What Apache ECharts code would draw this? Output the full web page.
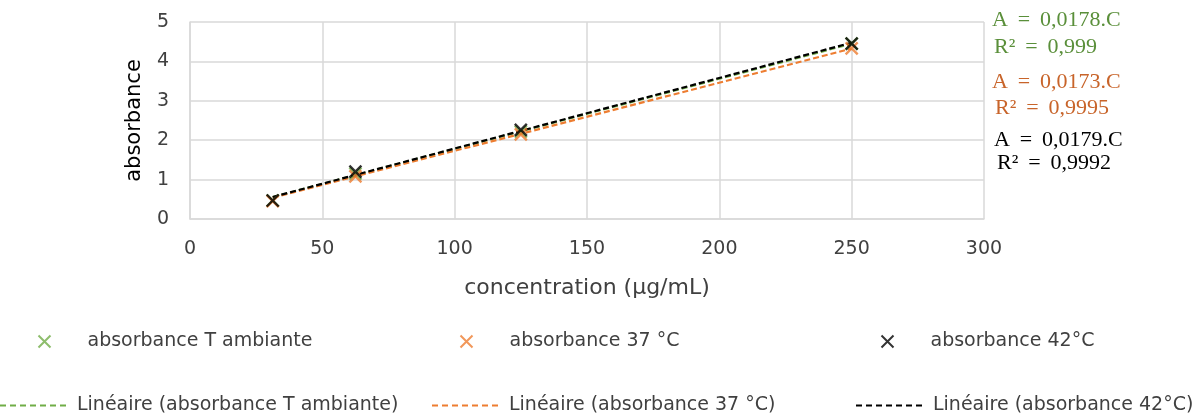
<!DOCTYPE html>
<html><head><meta charset="utf-8">
<script src="https://cdn.jsdelivr.net/npm/echarts@6/dist/echarts.min.js"></script>
<style>html,body{margin:0;padding:0;background:#fff}#c{width:1196px;height:418px}</style>
</head><body><div id="c"></div>
<script>
const concentrations = [31.25, 62.5, 125, 250];
const absAmbiante = [0.47, 1.15, 2.22, 4.45];
const abs37 = [0.45, 1.08, 2.15, 4.33];
const abs42 = [0.47, 1.20, 2.26, 4.45];
const trendX = [31.25, 250];
const trendAmbiante = [0.556, 4.45];
const trend37 = [0.541, 4.325];
const trend42 = [0.559, 4.475];
const seriesNames = ['absorbance T ambiante', 'absorbance 37 °C', 'absorbance 42°C'];
const trendNames = ['Linéaire (absorbance T ambiante)', 'Linéaire (absorbance 37 °C)', 'Linéaire (absorbance 42°C)'];
const equations = [['A = 0,0178.C', 'R² = 0,999'], ['A = 0,0173.C', 'R² = 0,9995'], ['A = 0,0179.C', 'R² = 0,9992']];
const colors = ['#70AD47', '#ED7D31', '#000000'];
const eqColors = ['#5A8F3A', '#C8642A', '#000000'];

const cross = 'path://M0,0L10,10M10,0L0,10';
let dashPath = 'path://';
for (let k = 0; k < 7; k++) dashPath += 'M' + (k * 10) + ',0h6v2h-6z';
const pair = (xs, ys) => xs.map((x, i) => [x, ys[i]]);
const pts = [absAmbiante, abs37, abs42];
const trends = [trendAmbiante, trend37, trend42];

const series = [];
trends.forEach((t, i) => {
  series.push({
    name: trendNames[i], type: 'line', data: pair(trendX, t), symbol: 'none',
    lineStyle: { color: colors[i], width: 2.2, type: [6, 3] }, itemStyle: { color: colors[i] },
    z: 2 + i, silent: true
  });
});
pts.forEach((p, i) => {
  series.push({
    name: seriesNames[i], type: 'scatter', data: pair(concentrations, p), symbol: cross, symbolSize: 12,
    itemStyle: { color: 'none', borderColor: colors[i], borderWidth: 2.4 }, z: 5 + i
  });
});

const sans = 'DejaVu Sans';
const legendFont = { fontFamily: sans, fontSize: 19, color: '#404040' };
const legends = [];
const l1x = [36, 458, 879], l2x = [0, 432, 856];
seriesNames.forEach((n, i) => legends.push({
  data: [{ name: n, icon: cross, itemStyle: { color: 'none', borderColor: colors[i], borderWidth: 2 } }],
  left: l1x[i], top: 332, padding: 0, itemWidth: 14, itemHeight: 12, itemGap: 0,
  textStyle: Object.assign({ padding: [0, 0, 0, 31] }, legendFont)
}));
trendNames.forEach((n, i) => legends.push({
  data: [{ name: n, icon: dashPath, itemStyle: { color: colors[i] } }],
  left: l2x[i], top: 396, padding: 0, itemWidth: 66, itemHeight: 2,
  textStyle: Object.assign({ padding: [0, 0, 0, 6] }, legendFont)
}));

const eqCenters = [[20, 47], [82, 108], [140, 163]];
const eqLeft = [[992, 994], [992, 995], [994, 997]];
const graphics = [];
equations.forEach((e, i) => e.forEach((s, j) => graphics.push({
  type: 'text', left: eqLeft[i][j], top: eqCenters[i][j] - 11,
  style: { text: s.replace(/ /g, ' \u2009'), fill: eqColors[i], font: '22px "Liberation Serif"' }
})));

const chart = echarts.init(document.getElementById('c'));
chart.setOption({
  animation: false,
  grid: { left: 190, right: 212, top: 22, bottom: 199, containLabel: false },
  xAxis: {
    type: 'value', min: 0, max: 300, interval: 50,
    name: 'concentration (µg/mL)', nameLocation: 'middle', nameGap: 58,
    nameTextStyle: { fontFamily: sans, fontSize: 22, color: '#404040' },
    axisLine: { show: true, lineStyle: { color: '#d9d9d9', width: 1.5 } },
    axisTick: { show: false },
    axisLabel: { fontFamily: sans, fontSize: 19, color: '#404040', margin: 21 },
    splitLine: { show: true, lineStyle: { color: '#d9d9d9', width: 1.5 } }
  },
  yAxis: {
    type: 'value', min: 0, max: 5, interval: 1,
    name: 'absorbance', nameLocation: 'middle', nameGap: 45, nameRotate: 90,
    nameTextStyle: { fontFamily: sans, fontSize: 21, color: '#000' },
    axisLine: { show: true, lineStyle: { color: '#d9d9d9', width: 1.5 } },
    axisTick: { show: false },
    axisLabel: { fontFamily: sans, fontSize: 19, color: '#404040', margin: 21 },
    splitLine: { show: true, lineStyle: { color: '#d9d9d9', width: 1.5 } }
  },
  legend: legends,
  graphic: graphics,
  series: series
});
</script></body></html>
